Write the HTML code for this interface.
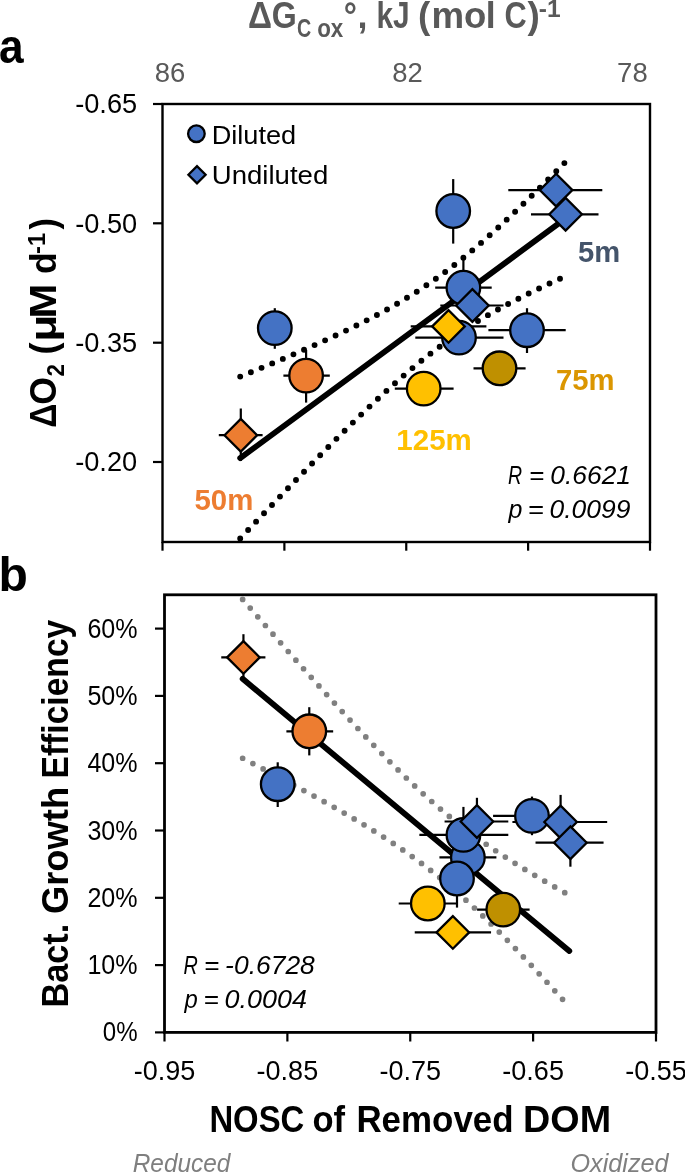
<!DOCTYPE html>
<html><head><meta charset="utf-8"><style>
html,body{margin:0;padding:0;background:#fff;}
body{width:685px;height:1173px;overflow:hidden;}
svg{display:block;will-change:transform;font-family:"Liberation Sans", sans-serif;}
</style></head><body>
<svg width="685" height="1173" viewBox="0 0 685 1173">
<rect width="685" height="1173" fill="#fff"/>
<rect x="162.5" y="104.0" width="487.5" height="438.0" fill="none" stroke="#000" stroke-width="2.4"/>
<line x1="153.00" y1="104.00" x2="162.50" y2="104.00" stroke="#000" stroke-width="2.2" stroke-linecap="butt"/>
<line x1="153.00" y1="223.30" x2="162.50" y2="223.30" stroke="#000" stroke-width="2.2" stroke-linecap="butt"/>
<line x1="153.00" y1="342.70" x2="162.50" y2="342.70" stroke="#000" stroke-width="2.2" stroke-linecap="butt"/>
<line x1="153.00" y1="462.00" x2="162.50" y2="462.00" stroke="#000" stroke-width="2.2" stroke-linecap="butt"/>
<line x1="162.50" y1="542.00" x2="162.50" y2="550.70" stroke="#000" stroke-width="2.2" stroke-linecap="butt"/>
<line x1="284.38" y1="542.00" x2="284.38" y2="550.70" stroke="#000" stroke-width="2.2" stroke-linecap="butt"/>
<line x1="406.25" y1="542.00" x2="406.25" y2="550.70" stroke="#000" stroke-width="2.2" stroke-linecap="butt"/>
<line x1="528.12" y1="542.00" x2="528.12" y2="550.70" stroke="#000" stroke-width="2.2" stroke-linecap="butt"/>
<line x1="650.00" y1="542.00" x2="650.00" y2="550.70" stroke="#000" stroke-width="2.2" stroke-linecap="butt"/>
<rect x="164.5" y="594.8" width="491.5" height="437.60000000000014" fill="none" stroke="#000" stroke-width="2.8"/>
<line x1="155.00" y1="1032.40" x2="164.50" y2="1032.40" stroke="#000" stroke-width="2.2" stroke-linecap="butt"/>
<line x1="155.00" y1="965.10" x2="164.50" y2="965.10" stroke="#000" stroke-width="2.2" stroke-linecap="butt"/>
<line x1="155.00" y1="897.80" x2="164.50" y2="897.80" stroke="#000" stroke-width="2.2" stroke-linecap="butt"/>
<line x1="155.00" y1="830.50" x2="164.50" y2="830.50" stroke="#000" stroke-width="2.2" stroke-linecap="butt"/>
<line x1="155.00" y1="763.20" x2="164.50" y2="763.20" stroke="#000" stroke-width="2.2" stroke-linecap="butt"/>
<line x1="155.00" y1="695.90" x2="164.50" y2="695.90" stroke="#000" stroke-width="2.2" stroke-linecap="butt"/>
<line x1="155.00" y1="628.60" x2="164.50" y2="628.60" stroke="#000" stroke-width="2.2" stroke-linecap="butt"/>
<line x1="164.50" y1="1032.40" x2="164.50" y2="1041.50" stroke="#000" stroke-width="2.2" stroke-linecap="butt"/>
<line x1="287.38" y1="1032.40" x2="287.38" y2="1041.50" stroke="#000" stroke-width="2.2" stroke-linecap="butt"/>
<line x1="410.25" y1="1032.40" x2="410.25" y2="1041.50" stroke="#000" stroke-width="2.2" stroke-linecap="butt"/>
<line x1="533.12" y1="1032.40" x2="533.12" y2="1041.50" stroke="#000" stroke-width="2.2" stroke-linecap="butt"/>
<line x1="656.00" y1="1032.40" x2="656.00" y2="1041.50" stroke="#000" stroke-width="2.2" stroke-linecap="butt"/>
<path d="M240.20,376.60 L242.91,375.50 L245.62,374.39 L248.33,373.28 L251.05,372.17 L253.76,371.05 L256.47,369.93 L259.18,368.81 L261.89,367.69 L264.61,366.56 L267.32,365.43 L270.03,364.30 L272.74,363.16 L275.45,362.02 L278.16,360.88 L280.88,359.73 L283.59,358.58 L286.30,357.42 L289.01,356.27 L291.72,355.10 L294.43,353.93 L297.14,352.76 L299.86,351.58 L302.57,350.40 L305.28,349.22 L307.99,348.02 L310.70,346.82 L313.41,345.62 L316.13,344.41 L318.84,343.19 L321.55,341.97 L324.26,340.74 L326.97,339.50 L329.69,338.26 L332.40,337.00 L335.11,335.74 L337.82,334.47 L340.53,333.20 L343.24,331.91 L345.96,330.61 L348.67,329.31 L351.38,327.99 L354.09,326.66 L356.80,325.32 L359.51,323.97 L362.23,322.61 L364.94,321.23 L367.65,319.84 L370.36,318.44 L373.07,317.02 L375.78,315.59 L378.50,314.14 L381.21,312.68 L383.92,311.19 L386.63,309.70 L389.34,308.18 L392.05,306.64 L394.76,305.09 L397.48,303.51 L400.19,301.92 L402.90,300.30 L405.61,298.66 L408.32,297.00 L411.03,295.32 L413.75,293.61 L416.46,291.88 L419.17,290.12 L421.88,288.33 L424.59,286.53 L427.31,284.69 L430.02,282.83 L432.73,280.94 L435.44,279.03 L438.15,277.09 L440.86,275.12 L443.58,273.12 L446.29,271.10 L449.00,269.05 L451.71,266.97 L454.42,264.87 L457.13,262.74 L459.85,260.58 L462.56,258.40 L465.27,256.19 L467.98,253.96 L470.69,251.70 L473.40,249.42 L476.12,247.11 L478.83,244.78 L481.54,242.43 L484.25,240.06 L486.96,237.67 L489.67,235.26 L492.38,232.83 L495.10,230.38 L497.81,227.91 L500.52,225.42 L503.23,222.92 L505.94,220.39 L508.66,217.86 L511.37,215.31 L514.08,212.74 L516.79,210.16 L519.50,207.57 L522.21,204.96 L524.92,202.34 L527.64,199.71 L530.35,197.07 L533.06,194.41 L535.77,191.75 L538.48,189.08 L541.19,186.39 L543.91,183.70 L546.62,181.00 L549.33,178.29 L552.04,175.57 L554.75,172.84 L557.47,170.11 L560.18,167.37 L562.89,164.62 L565.60,161.86" fill="none" stroke="#000" stroke-width="5.9" stroke-dasharray="0 11.54" stroke-linecap="round"/>
<path d="M240.20,538.40 L242.91,535.54 L245.62,532.67 L248.33,529.81 L251.05,526.94 L253.76,524.09 L256.47,521.23 L259.18,518.38 L261.89,515.53 L264.61,512.68 L267.32,509.83 L270.03,506.99 L272.74,504.16 L275.45,501.32 L278.16,498.49 L280.88,495.66 L283.59,492.84 L286.30,490.02 L289.01,487.21 L291.72,484.39 L294.43,481.59 L297.14,478.79 L299.86,475.99 L302.57,473.20 L305.28,470.41 L307.99,467.63 L310.70,464.85 L313.41,462.08 L316.13,459.32 L318.84,456.56 L321.55,453.81 L324.26,451.07 L326.97,448.33 L329.69,445.60 L332.40,442.88 L335.11,440.17 L337.82,437.46 L340.53,434.76 L343.24,432.08 L345.96,429.40 L348.67,426.73 L351.38,424.07 L354.09,421.43 L356.80,418.79 L359.51,416.17 L362.23,413.56 L364.94,410.96 L367.65,408.38 L370.36,405.81 L373.07,403.25 L375.78,400.71 L378.50,398.18 L381.21,395.67 L383.92,393.18 L386.63,390.70 L389.34,388.25 L392.05,385.81 L394.76,383.39 L397.48,380.99 L400.19,378.61 L402.90,376.25 L405.61,373.92 L408.32,371.60 L411.03,369.31 L413.75,367.05 L416.46,364.81 L419.17,362.59 L421.88,360.40 L424.59,358.23 L427.31,356.09 L430.02,353.98 L432.73,351.89 L435.44,349.83 L438.15,347.80 L440.86,345.80 L443.58,343.82 L446.29,341.87 L449.00,339.94 L451.71,338.05 L454.42,336.18 L457.13,334.33 L459.85,332.52 L462.56,330.72 L465.27,328.96 L467.98,327.22 L470.69,325.50 L473.40,323.81 L476.12,322.14 L478.83,320.49 L481.54,318.87 L484.25,317.26 L486.96,315.68 L489.67,314.12 L492.38,312.58 L495.10,311.05 L497.81,309.55 L500.52,308.06 L503.23,306.59 L505.94,305.14 L508.66,303.70 L511.37,302.28 L514.08,300.87 L516.79,299.48 L519.50,298.10 L522.21,296.73 L524.92,295.37 L527.64,294.03 L530.35,292.70 L533.06,291.38 L535.77,290.07 L538.48,288.77 L541.19,287.48 L543.91,286.19 L546.62,284.92 L549.33,283.66 L552.04,282.40 L554.75,281.16 L557.47,279.92 L560.18,278.68 L562.89,277.46 L565.60,276.24" fill="none" stroke="#000" stroke-width="5.9" stroke-dasharray="0 11.54" stroke-linecap="round"/>
<line x1="240.20" y1="458.15" x2="565.60" y2="218.33" stroke="#000" stroke-width="5.8" stroke-linecap="round"/>
<path d="M242.65,599.38 L245.37,602.52 L248.09,605.65 L250.82,608.77 L253.54,611.90 L256.26,615.02 L258.98,618.14 L261.70,621.26 L264.43,624.37 L267.15,627.49 L269.87,630.59 L272.59,633.70 L275.31,636.80 L278.04,639.90 L280.76,643.00 L283.48,646.09 L286.20,649.18 L288.93,652.26 L291.65,655.34 L294.37,658.42 L297.09,661.49 L299.81,664.56 L302.54,667.62 L305.26,670.68 L307.98,673.73 L310.70,676.78 L313.42,679.82 L316.15,682.86 L318.87,685.89 L321.59,688.92 L324.31,691.93 L327.03,694.95 L329.76,697.95 L332.48,700.95 L335.20,703.94 L337.92,706.92 L340.64,709.89 L343.37,712.86 L346.09,715.82 L348.81,718.76 L351.53,721.70 L354.26,724.63 L356.98,727.54 L359.70,730.45 L362.42,733.34 L365.14,736.23 L367.87,739.10 L370.59,741.95 L373.31,744.80 L376.03,747.63 L378.75,750.44 L381.48,753.24 L384.20,756.03 L386.92,758.80 L389.64,761.55 L392.36,764.28 L395.09,767.00 L397.81,769.69 L400.53,772.37 L403.25,775.03 L405.98,777.66 L408.70,780.28 L411.42,782.87 L414.14,785.44 L416.86,787.99 L419.59,790.51 L422.31,793.01 L425.03,795.48 L427.75,797.93 L430.47,800.36 L433.20,802.76 L435.92,805.13 L438.64,807.47 L441.36,809.79 L444.08,812.08 L446.81,814.35 L449.53,816.59 L452.25,818.80 L454.97,820.99 L457.69,823.15 L460.42,825.28 L463.14,827.39 L465.86,829.47 L468.58,831.53 L471.31,833.56 L474.03,835.57 L476.75,837.55 L479.47,839.51 L482.19,841.45 L484.92,843.37 L487.64,845.27 L490.36,847.14 L493.08,849.00 L495.80,850.83 L498.53,852.65 L501.25,854.45 L503.97,856.23 L506.69,858.00 L509.41,859.74 L512.14,861.48 L514.86,863.20 L517.58,864.90 L520.30,866.59 L523.02,868.26 L525.75,869.93 L528.47,871.58 L531.19,873.22 L533.91,874.85 L536.63,876.46 L539.36,878.07 L542.08,879.67 L544.80,881.25 L547.52,882.83 L550.25,884.40 L552.97,885.96 L555.69,887.51 L558.41,889.06 L561.13,890.60 L563.86,892.13 L566.58,893.65 L569.30,895.17" fill="none" stroke="#808080" stroke-width="5.7" stroke-dasharray="0 11.54" stroke-linecap="round"/>
<path d="M242.65,758.25 L245.37,759.66 L248.09,761.06 L250.82,762.47 L253.54,763.88 L256.26,765.29 L258.98,766.71 L261.70,768.13 L264.43,769.55 L267.15,770.97 L269.87,772.40 L272.59,773.83 L275.31,775.27 L278.04,776.70 L280.76,778.14 L283.48,779.59 L286.20,781.03 L288.93,782.49 L291.65,783.94 L294.37,785.40 L297.09,786.86 L299.81,788.33 L302.54,789.81 L305.26,791.28 L307.98,792.77 L310.70,794.25 L313.42,795.75 L316.15,797.25 L318.87,798.75 L321.59,800.26 L324.31,801.78 L327.03,803.31 L329.76,804.84 L332.48,806.38 L335.20,807.92 L337.92,809.48 L340.64,811.04 L343.37,812.61 L346.09,814.19 L348.81,815.78 L351.53,817.38 L354.26,818.98 L356.98,820.60 L359.70,822.23 L362.42,823.87 L365.14,825.53 L367.87,827.19 L370.59,828.87 L373.31,830.56 L376.03,832.27 L378.75,833.99 L381.48,835.73 L384.20,837.48 L386.92,839.25 L389.64,841.03 L392.36,842.83 L395.09,844.65 L397.81,846.49 L400.53,848.35 L403.25,850.23 L405.98,852.13 L408.70,854.05 L411.42,856.00 L414.14,857.96 L416.86,859.95 L419.59,861.96 L422.31,864.00 L425.03,866.06 L427.75,868.15 L430.47,870.26 L433.20,872.40 L435.92,874.56 L438.64,876.75 L441.36,878.97 L444.08,881.21 L446.81,883.48 L449.53,885.78 L452.25,888.11 L454.97,890.46 L457.69,892.83 L460.42,895.24 L463.14,897.66 L465.86,900.12 L468.58,902.60 L471.31,905.10 L474.03,907.63 L476.75,910.18 L479.47,912.75 L482.19,915.35 L484.92,917.97 L487.64,920.61 L490.36,923.27 L493.08,925.95 L495.80,928.65 L498.53,931.37 L501.25,934.10 L503.97,936.86 L506.69,939.63 L509.41,942.42 L512.14,945.22 L514.86,948.04 L517.58,950.87 L520.30,953.72 L523.02,956.58 L525.75,959.45 L528.47,962.33 L531.19,965.23 L533.91,968.14 L536.63,971.06 L539.36,973.99 L542.08,976.93 L544.80,979.87 L547.52,982.83 L550.25,985.80 L552.97,988.78 L555.69,991.76 L558.41,994.75 L561.13,997.75 L563.86,1000.75 L566.58,1003.77 L569.30,1006.79" fill="none" stroke="#808080" stroke-width="5.7" stroke-dasharray="0 11.54" stroke-linecap="round"/>
<line x1="242.65" y1="678.82" x2="569.30" y2="950.98" stroke="#000" stroke-width="5.8" stroke-linecap="round"/>
<line x1="274.80" y1="308.20" x2="274.80" y2="348.80" stroke="#000" stroke-width="2.2" stroke-linecap="butt"/>
<line x1="435.20" y1="287.70" x2="491.70" y2="287.70" stroke="#000" stroke-width="2.2" stroke-linecap="butt"/>
<line x1="463.40" y1="255.00" x2="463.40" y2="300.00" stroke="#000" stroke-width="2.2" stroke-linecap="butt"/>
<line x1="415.30" y1="337.60" x2="503.50" y2="337.60" stroke="#000" stroke-width="2.2" stroke-linecap="butt"/>
<line x1="453.20" y1="179.10" x2="453.20" y2="243.60" stroke="#000" stroke-width="2.2" stroke-linecap="butt"/>
<line x1="488.40" y1="330.20" x2="565.70" y2="330.20" stroke="#000" stroke-width="2.2" stroke-linecap="butt"/>
<line x1="527.00" y1="308.20" x2="527.00" y2="353.00" stroke="#000" stroke-width="2.2" stroke-linecap="butt"/>
<line x1="440.30" y1="305.50" x2="503.50" y2="305.50" stroke="#000" stroke-width="2.2" stroke-linecap="butt"/>
<line x1="508.30" y1="190.10" x2="602.30" y2="190.10" stroke="#000" stroke-width="2.2" stroke-linecap="butt"/>
<line x1="531.00" y1="214.30" x2="598.50" y2="214.30" stroke="#000" stroke-width="2.2" stroke-linecap="butt"/>
<line x1="218.80" y1="435.20" x2="262.60" y2="435.20" stroke="#000" stroke-width="2.2" stroke-linecap="butt"/>
<line x1="240.80" y1="408.50" x2="240.80" y2="461.00" stroke="#000" stroke-width="2.2" stroke-linecap="butt"/>
<line x1="283.40" y1="375.60" x2="329.80" y2="375.60" stroke="#000" stroke-width="2.2" stroke-linecap="butt"/>
<line x1="306.10" y1="350.00" x2="306.10" y2="402.60" stroke="#000" stroke-width="2.2" stroke-linecap="butt"/>
<line x1="473.50" y1="368.30" x2="525.60" y2="368.30" stroke="#000" stroke-width="2.2" stroke-linecap="butt"/>
<line x1="394.80" y1="388.60" x2="453.60" y2="388.60" stroke="#000" stroke-width="2.2" stroke-linecap="butt"/>
<line x1="410.70" y1="326.40" x2="486.40" y2="326.40" stroke="#000" stroke-width="2.2" stroke-linecap="butt"/>
<circle cx="274.80" cy="328.10" r="16.8" fill="#4472C4" stroke="#000" stroke-width="2.3"/>
<circle cx="463.40" cy="287.70" r="16.8" fill="#4472C4" stroke="#000" stroke-width="2.3"/>
<circle cx="459.00" cy="337.60" r="16.8" fill="#4472C4" stroke="#000" stroke-width="2.3"/>
<circle cx="453.20" cy="211.00" r="16.8" fill="#4472C4" stroke="#000" stroke-width="2.3"/>
<circle cx="527.00" cy="330.20" r="16.8" fill="#4472C4" stroke="#000" stroke-width="2.3"/>
<path d="M456.10,305.50L472.40,289.20L488.70,305.50L472.40,321.80Z" fill="#4472C4" stroke="#000" stroke-width="2.3" stroke-linejoin="miter"/>
<path d="M539.80,190.10L556.10,173.80L572.40,190.10L556.10,206.40Z" fill="#4472C4" stroke="#000" stroke-width="2.3" stroke-linejoin="miter"/>
<path d="M549.30,214.30L565.60,198.00L581.90,214.30L565.60,230.60Z" fill="#4472C4" stroke="#000" stroke-width="2.3" stroke-linejoin="miter"/>
<path d="M224.50,435.20L240.80,418.90L257.10,435.20L240.80,451.50Z" fill="#ED7D31" stroke="#000" stroke-width="2.3" stroke-linejoin="miter"/>
<circle cx="306.10" cy="375.60" r="16.8" fill="#ED7D31" stroke="#000" stroke-width="2.3"/>
<circle cx="499.50" cy="368.30" r="16.8" fill="#BF9000" stroke="#000" stroke-width="2.3"/>
<circle cx="423.70" cy="388.60" r="16.8" fill="#FFC000" stroke="#000" stroke-width="2.3"/>
<path d="M432.20,326.40L448.50,310.10L464.80,326.40L448.50,342.70Z" fill="#FFC000" stroke="#000" stroke-width="2.3" stroke-linejoin="miter"/>
<line x1="277.72" y1="762.30" x2="277.72" y2="807.00" stroke="#000" stroke-width="2.2" stroke-linecap="butt"/>
<line x1="439.44" y1="857.40" x2="496.40" y2="857.40" stroke="#000" stroke-width="2.2" stroke-linecap="butt"/>
<line x1="419.37" y1="834.90" x2="508.30" y2="834.90" stroke="#000" stroke-width="2.2" stroke-linecap="butt"/>
<line x1="463.43" y1="806.90" x2="463.43" y2="850.00" stroke="#000" stroke-width="2.2" stroke-linecap="butt"/>
<line x1="457.00" y1="860.00" x2="457.00" y2="907.60" stroke="#000" stroke-width="2.2" stroke-linecap="butt"/>
<line x1="493.07" y1="815.90" x2="571.01" y2="815.90" stroke="#000" stroke-width="2.2" stroke-linecap="butt"/>
<line x1="531.99" y1="796.60" x2="531.99" y2="835.20" stroke="#000" stroke-width="2.2" stroke-linecap="butt"/>
<line x1="444.58" y1="821.50" x2="508.30" y2="821.50" stroke="#000" stroke-width="2.2" stroke-linecap="butt"/>
<line x1="476.94" y1="797.80" x2="476.94" y2="830.00" stroke="#000" stroke-width="2.2" stroke-linecap="butt"/>
<line x1="512.41" y1="822.00" x2="607.18" y2="822.00" stroke="#000" stroke-width="2.2" stroke-linecap="butt"/>
<line x1="560.60" y1="794.90" x2="560.60" y2="830.00" stroke="#000" stroke-width="2.2" stroke-linecap="butt"/>
<line x1="535.52" y1="842.70" x2="603.57" y2="842.70" stroke="#000" stroke-width="2.2" stroke-linecap="butt"/>
<line x1="570.40" y1="830.00" x2="570.40" y2="866.70" stroke="#000" stroke-width="2.2" stroke-linecap="butt"/>
<line x1="221.26" y1="657.40" x2="265.42" y2="657.40" stroke="#000" stroke-width="2.2" stroke-linecap="butt"/>
<line x1="243.44" y1="634.20" x2="243.44" y2="680.00" stroke="#000" stroke-width="2.2" stroke-linecap="butt"/>
<line x1="286.39" y1="731.30" x2="333.17" y2="731.30" stroke="#000" stroke-width="2.2" stroke-linecap="butt"/>
<line x1="309.28" y1="707.20" x2="309.28" y2="755.40" stroke="#000" stroke-width="2.2" stroke-linecap="butt"/>
<line x1="477.09" y1="909.60" x2="529.61" y2="909.60" stroke="#000" stroke-width="2.2" stroke-linecap="butt"/>
<line x1="398.71" y1="903.50" x2="457.99" y2="903.50" stroke="#000" stroke-width="2.2" stroke-linecap="butt"/>
<line x1="414.74" y1="932.40" x2="491.06" y2="932.40" stroke="#000" stroke-width="2.2" stroke-linecap="butt"/>
<circle cx="277.72" cy="784.20" r="16.8" fill="#4472C4" stroke="#000" stroke-width="2.3"/>
<circle cx="467.87" cy="857.40" r="16.8" fill="#4472C4" stroke="#000" stroke-width="2.3"/>
<circle cx="463.43" cy="834.90" r="16.8" fill="#4472C4" stroke="#000" stroke-width="2.3"/>
<circle cx="457.00" cy="878.50" r="16.8" fill="#4472C4" stroke="#000" stroke-width="2.3"/>
<circle cx="531.99" cy="815.90" r="16.8" fill="#4472C4" stroke="#000" stroke-width="2.3"/>
<path d="M460.64,821.50L476.94,805.20L493.24,821.50L476.94,837.80Z" fill="#4472C4" stroke="#000" stroke-width="2.3" stroke-linejoin="miter"/>
<path d="M544.30,822.00L560.60,805.70L576.90,822.00L560.60,838.30Z" fill="#4472C4" stroke="#000" stroke-width="2.3" stroke-linejoin="miter"/>
<path d="M554.10,842.70L570.40,826.40L586.70,842.70L570.40,859.00Z" fill="#4472C4" stroke="#000" stroke-width="2.3" stroke-linejoin="miter"/>
<path d="M227.14,657.40L243.44,641.10L259.74,657.40L243.44,673.70Z" fill="#ED7D31" stroke="#000" stroke-width="2.3" stroke-linejoin="miter"/>
<circle cx="309.28" cy="731.30" r="16.8" fill="#ED7D31" stroke="#000" stroke-width="2.3"/>
<circle cx="503.30" cy="909.60" r="16.8" fill="#BF9000" stroke="#000" stroke-width="2.3"/>
<circle cx="427.84" cy="903.50" r="16.8" fill="#FFC000" stroke="#000" stroke-width="2.3"/>
<path d="M436.55,932.40L452.85,916.10L469.15,932.40L452.85,948.70Z" fill="#FFC000" stroke="#000" stroke-width="2.3" stroke-linejoin="miter"/>
<circle cx="196.40" cy="133.70" r="8.3" fill="#4472C4" stroke="#000" stroke-width="2.3"/>
<path d="M188.40,174.80L197.00,166.20L205.60,174.80L197.00,183.40Z" fill="#4472C4" stroke="#000" stroke-width="2.3" stroke-linejoin="miter"/>
<text y="143.5" font-size="25" font-weight="normal" font-style="normal" fill="#000"><tspan x="211.67" textLength="84.58" lengthAdjust="spacingAndGlyphs">Diluted</tspan></text>
<text y="183.9" font-size="25" font-weight="normal" font-style="normal" fill="#000"><tspan x="211.77" textLength="116.5" lengthAdjust="spacingAndGlyphs">Undiluted</tspan></text>
<text y="261.9" font-size="29" font-weight="bold" font-style="normal" fill="#44546A"><tspan x="577.9" textLength="42.21" lengthAdjust="spacingAndGlyphs">5m</tspan></text>
<text y="389.6" font-size="29" font-weight="bold" font-style="normal" fill="#DB9600"><tspan x="555.94" textLength="58.57" lengthAdjust="spacingAndGlyphs">75m</tspan></text>
<text y="450.3" font-size="29" font-weight="bold" font-style="normal" fill="#FFC000"><tspan x="396.34" textLength="75.49" lengthAdjust="spacingAndGlyphs">125m</tspan></text>
<text y="510.0" font-size="29" font-weight="bold" font-style="normal" fill="#ED7D31"><tspan x="194.5" textLength="58.83" lengthAdjust="spacingAndGlyphs">50m</tspan></text>
<text y="484.3" font-size="25" font-weight="normal" font-style="italic" fill="#000"><tspan x="508.0" textLength="14.1" lengthAdjust="spacingAndGlyphs">R</tspan><tspan x="529.05" textLength="15.15" lengthAdjust="spacingAndGlyphs">=</tspan><tspan x="550.35" textLength="80.67" lengthAdjust="spacingAndGlyphs">0.6621</tspan></text>
<text y="518.4" font-size="25" font-weight="normal" font-style="italic" fill="#000"><tspan x="508.42" textLength="13.88" lengthAdjust="spacingAndGlyphs">p</tspan><tspan x="527.86" textLength="15.99" lengthAdjust="spacingAndGlyphs">=</tspan><tspan x="549.55" textLength="80.79" lengthAdjust="spacingAndGlyphs">0.0099</tspan></text>
<text y="973.5" font-size="25" font-weight="normal" font-style="italic" fill="#000"><tspan x="183.59" textLength="14.32" lengthAdjust="spacingAndGlyphs">R</tspan><tspan x="204.04" textLength="15.27" lengthAdjust="spacingAndGlyphs">=</tspan><tspan x="225.14" textLength="89.71" lengthAdjust="spacingAndGlyphs">-0.6728</tspan></text>
<text y="1007.5" font-size="25" font-weight="normal" font-style="italic" fill="#000"><tspan x="184.39" textLength="13.27" lengthAdjust="spacingAndGlyphs">p</tspan><tspan x="203.54" textLength="15.27" lengthAdjust="spacingAndGlyphs">=</tspan><tspan x="224.63" textLength="82.28" lengthAdjust="spacingAndGlyphs">0.0004</tspan></text>
<text x="137.2" y="113.2" font-size="27.5" text-anchor="end" font-weight="normal" font-style="normal" fill="#000" textLength="62" lengthAdjust="spacingAndGlyphs" >-0.65</text>
<text x="137.2" y="232.5" font-size="27.5" text-anchor="end" font-weight="normal" font-style="normal" fill="#000" textLength="62" lengthAdjust="spacingAndGlyphs" >-0.50</text>
<text x="137.2" y="351.9" font-size="27.5" text-anchor="end" font-weight="normal" font-style="normal" fill="#000" textLength="62" lengthAdjust="spacingAndGlyphs" >-0.35</text>
<text x="137.2" y="471.2" font-size="27.5" text-anchor="end" font-weight="normal" font-style="normal" fill="#000" textLength="62" lengthAdjust="spacingAndGlyphs" >-0.20</text>
<text x="137.6" y="1041.4" font-size="27.5" text-anchor="end" font-weight="normal" font-style="normal" fill="#000" textLength="34.8" lengthAdjust="spacingAndGlyphs" >0%</text>
<text x="137.6" y="974.1000000000001" font-size="27.5" text-anchor="end" font-weight="normal" font-style="normal" fill="#000" textLength="50.2" lengthAdjust="spacingAndGlyphs" >10%</text>
<text x="137.6" y="906.8000000000001" font-size="27.5" text-anchor="end" font-weight="normal" font-style="normal" fill="#000" textLength="50.2" lengthAdjust="spacingAndGlyphs" >20%</text>
<text x="137.6" y="839.5" font-size="27.5" text-anchor="end" font-weight="normal" font-style="normal" fill="#000" textLength="50.2" lengthAdjust="spacingAndGlyphs" >30%</text>
<text x="137.6" y="772.2" font-size="27.5" text-anchor="end" font-weight="normal" font-style="normal" fill="#000" textLength="50.2" lengthAdjust="spacingAndGlyphs" >40%</text>
<text x="137.6" y="704.9000000000001" font-size="27.5" text-anchor="end" font-weight="normal" font-style="normal" fill="#000" textLength="50.2" lengthAdjust="spacingAndGlyphs" >50%</text>
<text x="137.6" y="637.6" font-size="27.5" text-anchor="end" font-weight="normal" font-style="normal" fill="#000" textLength="50.2" lengthAdjust="spacingAndGlyphs" >60%</text>
<text x="164.5" y="1079.6" font-size="27.5" text-anchor="middle" font-weight="normal" font-style="normal" fill="#000" textLength="61.6" lengthAdjust="spacingAndGlyphs" >-0.95</text>
<text x="287.375" y="1079.6" font-size="27.5" text-anchor="middle" font-weight="normal" font-style="normal" fill="#000" textLength="61.6" lengthAdjust="spacingAndGlyphs" >-0.85</text>
<text x="410.25" y="1079.6" font-size="27.5" text-anchor="middle" font-weight="normal" font-style="normal" fill="#000" textLength="61.6" lengthAdjust="spacingAndGlyphs" >-0.75</text>
<text x="533.125" y="1079.6" font-size="27.5" text-anchor="middle" font-weight="normal" font-style="normal" fill="#000" textLength="61.6" lengthAdjust="spacingAndGlyphs" >-0.65</text>
<text x="656.0" y="1079.6" font-size="27.5" text-anchor="middle" font-weight="normal" font-style="normal" fill="#000" textLength="61.6" lengthAdjust="spacingAndGlyphs" >-0.55</text>
<text x="170.0" y="82.3" font-size="27.5" text-anchor="middle" font-weight="normal" font-style="normal" fill="#595959" textLength="30.6" lengthAdjust="spacingAndGlyphs" >86</text>
<text x="407.5" y="82.3" font-size="27.5" text-anchor="middle" font-weight="normal" font-style="normal" fill="#595959" textLength="30.6" lengthAdjust="spacingAndGlyphs" >82</text>
<text x="632.4" y="82.3" font-size="27.5" text-anchor="middle" font-weight="normal" font-style="normal" fill="#595959" textLength="30.6" lengthAdjust="spacingAndGlyphs" >78</text>
<text y="1131.7" font-size="36" font-weight="bold" fill="#000"><tspan x="209.4" textLength="94.9" lengthAdjust="spacingAndGlyphs">NOSC</tspan><tspan x="312.4" textLength="32.6" lengthAdjust="spacingAndGlyphs">of</tspan><tspan x="356.4" textLength="157.2" lengthAdjust="spacingAndGlyphs">Removed</tspan><tspan x="523.1" textLength="88" lengthAdjust="spacingAndGlyphs">DOM</tspan></text>
<text x="132.7" y="1171.8" font-size="25.5" text-anchor="start" font-weight="normal" font-style="italic" fill="#7F7F7F" textLength="97.7" lengthAdjust="spacingAndGlyphs" >Reduced</text>
<text x="570.5" y="1171.8" font-size="25.5" text-anchor="start" font-weight="normal" font-style="italic" fill="#7F7F7F" textLength="98.1" lengthAdjust="spacingAndGlyphs" >Oxidized</text>
<text y="28" font-size="36" font-weight="bold" fill="#595959"><tspan x="247.9" textLength="24" lengthAdjust="spacingAndGlyphs" y="28">Δ</tspan><tspan x="271.7" textLength="25" lengthAdjust="spacingAndGlyphs" y="28">G</tspan><tspan x="297.1" textLength="14.2" lengthAdjust="spacingAndGlyphs" y="37.4" font-size="25">C</tspan><tspan x="317.2" textLength="26.1" lengthAdjust="spacingAndGlyphs" y="37.4" font-size="25">ox</tspan><tspan x="343.8" textLength="13.2" lengthAdjust="spacingAndGlyphs" y="28">°</tspan><tspan x="357.5" textLength="10" lengthAdjust="spacingAndGlyphs" y="28">,</tspan><tspan x="376.4" textLength="33.2" lengthAdjust="spacingAndGlyphs" y="28">kJ</tspan><tspan x="417.9" textLength="12.3" lengthAdjust="spacingAndGlyphs" y="28">(</tspan><tspan x="431.4" textLength="32.6" lengthAdjust="spacingAndGlyphs" y="28">m</tspan><tspan x="463.9" textLength="22.3" lengthAdjust="spacingAndGlyphs" y="28">o</tspan><tspan x="485.8" textLength="9.9" lengthAdjust="spacingAndGlyphs" y="28">l</tspan><tspan x="504.6" textLength="22.2" lengthAdjust="spacingAndGlyphs" y="28">C</tspan><tspan x="527.4" textLength="12.3" lengthAdjust="spacingAndGlyphs" y="28">)</tspan><tspan x="538.8" textLength="21.8" lengthAdjust="spacingAndGlyphs" y="17" font-size="24">-1</tspan></text>
<text transform="translate(55.7,430) rotate(-90)" font-size="36" font-weight="bold" fill="#000"><tspan x="2.2" textLength="24" lengthAdjust="spacingAndGlyphs" y="0">Δ</tspan><tspan x="25.3" textLength="27.7" lengthAdjust="spacingAndGlyphs" y="0">O</tspan><tspan x="53.5" textLength="12.5" lengthAdjust="spacingAndGlyphs" y="8" font-size="24">2</tspan><tspan x="75.5" textLength="12" lengthAdjust="spacingAndGlyphs" y="0">(</tspan><tspan x="88.5" textLength="26.7" lengthAdjust="spacingAndGlyphs" y="0">μ</tspan><tspan x="111.6" textLength="34.9" lengthAdjust="spacingAndGlyphs" y="0">M</tspan><tspan x="155.9" textLength="21.7" lengthAdjust="spacingAndGlyphs" y="0">d</tspan><tspan x="176.0" textLength="21.1" lengthAdjust="spacingAndGlyphs" y="-11" font-size="24">-1</tspan><tspan x="200.6" textLength="11.4" lengthAdjust="spacingAndGlyphs" y="0">)</tspan></text>
<text transform="translate(68,1008) rotate(-90)" font-size="36" font-weight="bold" fill="#000"><tspan x="0.4" textLength="83.9" lengthAdjust="spacingAndGlyphs">Bact.</tspan><tspan x="93.9" textLength="127.2" lengthAdjust="spacingAndGlyphs">Growth</tspan><tspan x="229.5" textLength="158.8" lengthAdjust="spacingAndGlyphs">Efficiency</tspan></text>
<text x="-1" y="63.3" font-size="48" text-anchor="start" font-weight="bold" font-style="normal" fill="#000" textLength="24.6" lengthAdjust="spacingAndGlyphs" >a</text>
<text x="-1.5" y="590.5" font-size="48" text-anchor="start" font-weight="bold" font-style="normal" fill="#000" >b</text>
</svg>
</body></html>
